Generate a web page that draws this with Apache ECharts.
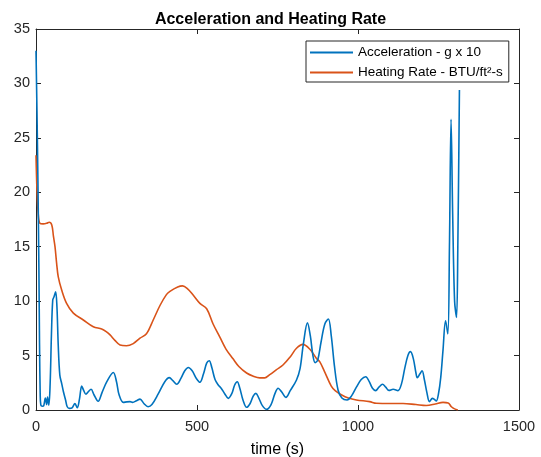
<!DOCTYPE html>
<html>
<head>
<meta charset="utf-8">
<script src="https://cdn.jsdelivr.net/npm/echarts@6/dist/echarts.min.js"></script>
<style>
  html, body { margin: 0; padding: 0; background: #fff; }
  #chart { width: 541px; height: 457px; }
</style>
</head>
<body>
<div id="chart"></div>
<script>
// Acceleration trace (g x 10) against time in seconds
const accelTime = [0, 3, 6, 9, 11, 13, 15, 20, 24, 29, 33, 36, 40, 44, 48, 52, 56, 61, 65, 69, 74, 80, 85, 92, 97, 104, 112, 121, 128, 135, 142, 148, 155, 163, 171, 180, 193, 205, 220, 240, 250, 258, 271, 282, 292, 300, 312, 323, 335, 348, 360, 380, 400, 414, 425, 437, 450, 462, 473, 485, 498, 509, 520, 530, 538, 546, 556, 566, 575, 586, 597, 608, 617, 625, 633, 643, 654, 665, 675, 683, 692, 703, 716, 730, 742, 752, 762, 776, 790, 809, 820, 830, 843, 852, 860, 867, 875, 885, 897, 908, 917, 927, 938, 950, 966, 980, 995, 1010, 1024, 1035, 1045, 1055, 1065, 1076, 1086, 1096, 1109, 1124, 1135, 1145, 1155, 1163, 1172, 1180, 1184, 1192, 1199, 1206, 1214, 1222, 1231, 1238, 1243, 1250, 1257, 1264, 1272, 1279, 1284, 1289, 1294, 1300, 1306, 1310, 1315];
const accelValue = [33.0, 27.5, 21, 13, 6, 1.5, 0.45, 0.35, 0.4, 1.1, 0.5, 1.2, 0.45, 2.5, 7, 10.1, 10.4, 10.85, 9.5, 6, 3.2, 2.4, 1.7, 0.9, 0.3, 0.15, 0.2, 0.6, 0.2, 1.0, 2.2, 1.8, 1.45, 1.7, 1.9, 1.4, 0.8, 1.6, 2.6, 3.45, 2.6, 1.4, 0.7, 0.75, 0.77, 0.7, 0.85, 1.0, 0.6, 0.3, 0.5, 1.5, 2.6, 2.97, 2.7, 2.36, 2.9, 3.6, 3.9, 3.6, 2.9, 2.55, 3.3, 4.3, 4.53, 3.9, 2.8, 2.3, 2.0, 1.5, 1.07, 1.5, 2.3, 2.6, 2.0, 0.9, 0.25, 0.6, 1.3, 1.53, 1.1, 0.4, 0.06, 0.5, 1.5, 2.0, 1.7, 1.16, 1.8, 2.76, 3.8, 6.0, 8.0, 6.8, 5.0, 4.35, 4.6, 6.2, 7.9, 8.36, 6.8, 4.0, 1.84, 1.1, 0.92, 1.3, 2.1, 2.8, 3.06, 2.6, 2.0, 1.78, 2.1, 2.36, 2.1, 1.8, 1.9, 1.78, 2.4, 3.8, 5.0, 5.36, 4.7, 3.4, 2.97, 3.3, 3.6, 2.8, 1.6, 0.77, 1.07, 0.95, 0.83, 1.5, 3.0, 5.5, 8.2, 7.0, 15, 26.7, 18, 10, 8.5, 15, 29.4];

// Heating rate trace (BTU/ft^2-s) against time in seconds
const heatTime = [0, 3, 7, 12, 22, 33, 41, 49, 54, 59, 64, 69, 80, 95, 116, 147, 178, 204, 218, 230, 245, 261, 281, 302, 323, 343, 364, 385, 405, 416, 440, 455, 470, 488, 509, 530, 550, 571, 590, 612, 630, 654, 675, 695, 710, 726, 747, 767, 790, 809, 829, 850, 871, 881, 895, 917, 930, 948, 970, 995, 1036, 1057, 1100, 1140, 1180, 1212, 1240, 1264, 1280, 1290, 1300, 1310];
const heatValue = [23.4, 20.2, 18, 17.15, 17.1, 17.15, 17.25, 17.0, 16, 15.0, 13.5, 12.25, 11.0, 9.8, 8.9, 8.27, 7.65, 7.44, 7.2, 6.9, 6.4, 5.97, 5.9, 6.1, 6.6, 7.0, 8.27, 9.6, 10.6, 10.9, 11.3, 11.4, 11.15, 10.56, 9.8, 9.3, 7.9, 6.7, 5.6, 4.7, 4.0, 3.4, 3.1, 2.95, 2.95, 3.25, 3.7, 4.13, 4.9, 5.67, 6.03, 5.6, 4.74, 4.44, 3.6, 2.2, 1.75, 1.4, 1.1, 0.92, 0.77, 0.62, 0.6, 0.6, 0.5, 0.42, 0.55, 0.7, 0.65, 0.3, 0.1, 0];

const xTicks = [0, 500, 1000, 1500];
const yTicks = [0, 5, 10, 15, 20, 25, 30, 35];

const seriesNames = ['Acceleration - g x 10', 'Heating Rate - BTU/ft\u00B2-s'];
const axisColor = '#262626';
const fontFamily = 'Liberation Sans, Arial, Helvetica, sans-serif';

function pairs(xs, ys) {
  return xs.map((x, i) => [x, ys[i]]);
}

const chart = echarts.init(document.getElementById('chart'), null, { renderer: 'canvas' });

const baseX = {
  type: 'value', min: xTicks[0], max: xTicks[xTicks.length - 1], interval: 500,
  splitLine: { show: false },
  axisLine: { show: true, onZero: false, lineStyle: { color: axisColor, width: 1 } },
  axisTick: { show: true, inside: true, length: 5, lineStyle: { color: axisColor } }
};
const baseY = {
  type: 'value', min: yTicks[0], max: yTicks[yTicks.length - 1], interval: 5,
  splitLine: { show: false },
  axisLine: { show: true, onZero: false, lineStyle: { color: axisColor, width: 1 } },
  axisTick: { show: true, inside: true, length: 5, lineStyle: { color: axisColor } }
};

// plain line swatch for legend entries
const lineIcon = 'path://M0,0 H43 V2 H0 Z';

chart.setOption({
  animation: false,
  backgroundColor: '#ffffff',
  title: {
    text: 'Acceleration and Heating Rate',
    left: 'center',
    top: 7,
    textStyle: { fontFamily, fontSize: 16, fontWeight: 'bold', color: '#000' }
  },
  legend: {
    orient: 'vertical',
    left: 306,
    top: 41,
    padding: [4, 6, 2, 4],
    itemGap: 5,
    itemWidth: 43,
    itemHeight: 2,
    icon: lineIcon,
    backgroundColor: '#fff',
    borderColor: axisColor,
    borderWidth: 1,
    borderRadius: 0,
    textStyle: { fontFamily, fontSize: 13.5, color: '#000', lineHeight: 15 },
    data: seriesNames
  },
  grid: { left: 36, right: 22, top: 29, bottom: 47, containLabel: false, outerBoundsMode: 'none' },
  xAxis: [
    Object.assign({}, baseX, {
      position: 'bottom',
      name: 'time (s)',
      nameLocation: 'middle',
      nameGap: 32,
      nameTextStyle: { fontFamily, fontSize: 16, color: '#000' },
      axisLabel: { fontFamily, fontSize: 14.5, color: axisColor, margin: 9, formatter: (v) => String(v) }
    }),
    Object.assign({}, baseX, { position: 'top', axisLabel: { show: false } })
  ],
  yAxis: [
    Object.assign({}, baseY, {
      position: 'left',
      axisLabel: { fontFamily, fontSize: 14.5, color: axisColor, margin: 6, formatter: (v) => String(v) }
    }),
    Object.assign({}, baseY, { position: 'right', axisLabel: { show: false } })
  ],
  series: [
    {
      name: seriesNames[0],
      type: 'line',
      data: pairs(accelTime, accelValue),
      symbol: 'none',
      smooth: 0.35,
      clip: true,
      lineStyle: { color: '#0072BD', width: 1.6 },
      itemStyle: { color: '#0072BD' },
      z: 3
    },
    {
      name: seriesNames[1],
      type: 'line',
      data: pairs(heatTime, heatValue),
      symbol: 'none',
      smooth: 0.35,
      clip: true,
      lineStyle: { color: '#D95319', width: 1.6 },
      itemStyle: { color: '#D95319' },
      z: 2
    }
  ]
});
</script>
</body>
</html>
